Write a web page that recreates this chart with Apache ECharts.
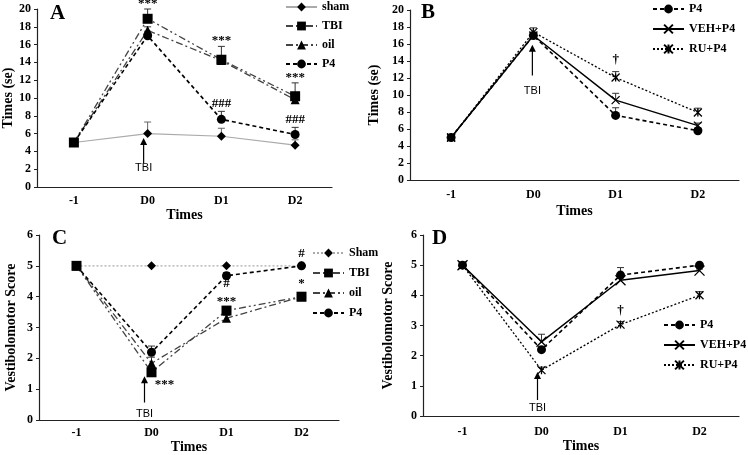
<!DOCTYPE html>
<html><head><meta charset="utf-8">
<script src="https://cdn.jsdelivr.net/npm/echarts@6/dist/echarts.min.js"></script>
<style>html,body{margin:0;padding:0;background:#fff}#c{width:748px;height:455px}</style>
</head><body><div id="c"></div>
<script>
const categories = ['-1', 'D0', 'D1', 'D2'];
const yTicksTime = [0, 20, 2];
const yTicksScore = [0, 6, 1];

// Panel A: Times (se)
const A_sham = [5, 6.0, 5.7, 4.7];
const A_sham_se = [0, 1.3, 0.9, 0.6];
const A_TBI = [5, 18.9, 14.3, 10.2];
const A_TBI_se = [0, 1.1, 1.5, 1.5];
const A_oil = [5, 17.6, 14.2, 9.8];
const A_oil_se = [0, 0.4, 0.3, 0.3];
const A_P4 = [5, 17.0, 7.6, 5.9];
const A_P4_se = [0, 0.5, 0.9, 0.8];

// Panel B: Times (se)
const B_P4 = [5, 17.0, 7.6, 5.8];
const B_P4_se = [0, 0.3, 0.9, 0.3];
const B_VEH = [5, 17.0, 9.4, 6.4];
const B_VEH_se = [0, 0.3, 0.8, 0.3];
const B_RU = [5, 17.4, 12.05, 7.95];
const B_RU_se = [0, 0.5, 0.7, 0.5];

// Panel C: Vestibolomotor Score
const C_Sham = [5, 5, 5, 5];
const C_TBI = [5, 1.55, 3.55, 4.0];
const C_TBI_se = [0, 0.15, 0.1, 0.05];
const C_oil = [5, 1.84, 3.3, 4.0];
const C_oil_se = [0, 0.2, 0.1, 0.05];
const C_P4 = [5, 2.2, 4.68, 5.0];
const C_P4_se = [0, 0.2, 0.1, 0.05];

// Panel D: Vestibolomotor Score
const D_P4 = [5, 2.2, 4.67, 5.0];
const D_P4_se = [0, 0.1, 0.25, 0.05];
const D_VEH = [5, 2.46, 4.5, 4.82];
const D_VEH_se = [0, 0.25, 0.15, 0.05];
const D_RU = [5, 1.52, 3.03, 4.0];
const D_RU_se = [0, 0.1, 0.1, 0.12];

// Significance marks: [category, value, text]
const annA = [['D0', 20.6, '***'], ['D1', 16.4, '***'], ['D2', 12.3, '***'], ['D1', 9.4, '###'], ['D2', 7.6, '###']];
const annB = [['D1', 14.2, '†']];
const annC = [['D0', 1.15, '***'], ['D1', 3.85, '***'], ['D1', 4.42, '#'], ['D2', 5.4, '#'], ['D2', 4.42, '*']];
const annD = [['D1', 3.5, '†']];
// TBI arrows: [category, tail value, tip value, label value]
const arrowA = ['D0', 2.7, 5.5, 2.1];
const arrowB = ['D0', 12.3, 15.9, 10.5];
const arrowC = ['D0', 0.57, 1.42, 0.19];
const arrowD = ['D0', 0.53, 1.46, 0.27];

const SERIF = '"Liberation Serif", "Times New Roman", serif';
const SANS = '"Liberation Sans", Arial, sans-serif';
const boldFont = sz => ({ fontFamily: SERIF, fontWeight: 'bold', fontSize: sz, color: '#000' });

const XSYM = 'path://M0,0L10,10M10,0L0,10';
const ASYM = 'path://M0,0L10,10M10,0L0,10M5,0L5,10';

const grids = [
  { left: 36, top: 9, width: 296, height: 178 },
  { left: 410, top: 10, width: 329, height: 170 },
  { left: 39, top: 235, width: 300, height: 190 },
  { left: 423, top: 235, width: 316, height: 181 }
];
const xMargin = [8, 9, 7, 10];
const xNameGap = [19, 24, 17, 23];
const yNameGap = [22, 29, 21, 28];
const yNames = ['Times (se)', 'Times (se)', 'Vestibolomotor Score', 'Vestibolomotor Score'];

const xAxes = grids.map((g, i) => ({
  type: 'category', gridIndex: i, data: categories, boundaryGap: true,
  name: 'Times', nameLocation: 'middle', nameGap: xNameGap[i], nameTextStyle: boldFont(14),
  axisLine: { lineStyle: { color: '#222', width: 1.2 } },
  axisTick: { alignWithLabel: true, length: 3, lineStyle: { color: '#222' } },
  axisLabel: Object.assign({ margin: xMargin[i] }, boldFont(12)),
  splitLine: { show: false }
}));
const yAxes = grids.map((g, i) => {
  const t = i < 2 ? yTicksTime : yTicksScore;
  return {
    type: 'value', gridIndex: i, min: t[0], max: t[1], interval: t[2],
    name: yNames[i], nameLocation: 'middle', nameGap: yNameGap[i], nameRotate: 90,
    nameTextStyle: boldFont(14),
    axisLine: { show: true, lineStyle: { color: '#222', width: 1.2 } },
    axisTick: { show: true, length: 3, lineStyle: { color: '#222' } },
    axisLabel: Object.assign({ margin: 6 }, boldFont(12)),
    splitLine: { show: false }
  };
});

function lineSeries(gi, name, data, symbol, size, color, dash, width) {
  return {
    type: 'line', name, xAxisIndex: gi, yAxisIndex: gi, data,
    symbol, symbolSize: size, z: 3,
    lineStyle: { color, type: dash, width },
    itemStyle: { color: '#000', borderColor: '#000', borderWidth: (symbol === XSYM || symbol === ASYM) ? 1.3 : 0 },
    emphasis: { disabled: true }, animation: false
  };
}
function errSeries(gi, vals, se, color) {
  return {
    type: 'custom', xAxisIndex: gi, yAxisIndex: gi, silent: true, z: 2, animation: false,
    data: vals.map((v, i) => [i, v, se[i]]).filter(d => d[2] > 0),
    renderItem(params, api) {
      const x = api.value(0), v = api.value(1), e = api.value(2);
      const p1 = api.coord([x, v]), p2 = api.coord([x, v + e]);
      return { type: 'group', children: [
        { type: 'line', shape: { x1: p1[0], y1: p1[1], x2: p2[0], y2: p2[1] }, style: { stroke: color, lineWidth: 1 } },
        { type: 'line', shape: { x1: p2[0] - 3.5, y1: p2[1], x2: p2[0] + 3.5, y2: p2[1] }, style: { stroke: color, lineWidth: 1 } }
      ] };
    }
  };
}
function annSeries(gi, items, font, dx) {
  return {
    type: 'custom', xAxisIndex: gi, yAxisIndex: gi, silent: true, z: 6, animation: false,
    data: items.map(d => [categories.indexOf(d[0]), d[1]]),
    renderItem(params, api) {
      const p = api.coord([api.value(0), api.value(1)]);
      const d = items[params.dataIndex];
      const off = (d[2] === '***' && d[0] === 'D0' && gi === 2) ? dx : 0;
      return { type: 'text', x: p[0] + off, y: p[1],
        style: { text: d[2], font, fill: '#000', align: 'center', verticalAlign: 'middle' } };
    }
  };
}
function arrowSeries(gi, a, dx) {
  return {
    type: 'custom', xAxisIndex: gi, yAxisIndex: gi, silent: true, z: 6, animation: false,
    data: [[categories.indexOf(a[0]), a[1], a[2], a[3]]],
    renderItem(params, api) {
      const x = api.value(0);
      const t = api.coord([x, api.value(1)]), h = api.coord([x, api.value(2)]), l = api.coord([x, api.value(3)]);
      const cx = t[0] + dx;
      return { type: 'group', children: [
        { type: 'line', shape: { x1: cx, y1: t[1], x2: cx, y2: h[1] + 5 }, style: { stroke: '#000', lineWidth: 1.2 } },
        { type: 'polygon', shape: { points: [[cx, h[1]], [cx - 3.5, h[1] + 7], [cx + 3.5, h[1] + 7]] }, style: { fill: '#000' } },
        { type: 'text', x: cx, y: l[1], style: { text: 'TBI', font: '11px ' + SANS, fill: '#000', align: 'center', verticalAlign: 'middle' } }
      ] };
    }
  };
}

const dashDotDot = [7, 3, 2, 3, 2, 3];
const dashDot = [7, 3, 2, 3];
const dashed = [4, 3];
const dotted = [2, 2];

const series = [
  // A
  errSeries(0, A_sham, A_sham_se, '#666'),
  errSeries(0, A_TBI, A_TBI_se, '#333'),
  errSeries(0, A_oil, A_oil_se, '#333'),
  errSeries(0, A_P4, A_P4_se, '#333'),
  lineSeries(0, 'sham', A_sham, 'diamond', 9, '#aaa', 'solid', 1.2),
  lineSeries(0, 'TBI', A_TBI, 'rect', 10, '#444', dashDotDot, 1.3),
  lineSeries(0, 'oil', A_oil, 'triangle', 9, '#444', dashDot, 1.3),
  lineSeries(0, 'P4', A_P4, 'circle', 9, '#000', dashed, 1.6),
  annSeries(0, annA, 'bold 13px ' + SERIF, 0),
  arrowSeries(0, arrowA, -4),
  // B
  errSeries(1, B_P4, B_P4_se, '#333'),
  errSeries(1, B_VEH, B_VEH_se, '#333'),
  errSeries(1, B_RU, B_RU_se, '#333'),
  lineSeries(1, 'P4', B_P4, 'circle', 9, '#000', dashed, 1.6),
  lineSeries(1, 'VEH+P4', B_VEH, XSYM, 8, '#000', 'solid', 1.5),
  lineSeries(1, 'RU+P4', B_RU, ASYM, 8, '#000', dotted, 1.3),
  annSeries(1, annB, 'bold 13px ' + SERIF, 0),
  arrowSeries(1, arrowB, -1),
  // C
  errSeries(2, C_TBI, C_TBI_se, '#333'),
  errSeries(2, C_oil, C_oil_se, '#333'),
  errSeries(2, C_P4, C_P4_se, '#333'),
  lineSeries(2, 'Sham', C_Sham, 'diamond', 9, '#aaa', dotted, 1.2),
  lineSeries(2, 'TBI', C_TBI, 'rect', 10, '#444', dashDotDot, 1.3),
  lineSeries(2, 'oil', C_oil, 'triangle', 9, '#444', dashDot, 1.3),
  lineSeries(2, 'P4', C_P4, 'circle', 9, '#000', dashed, 1.6),
  annSeries(2, annC, 'bold 13px ' + SERIF, 13),
  arrowSeries(2, arrowC, -7),
  // D
  errSeries(3, D_P4, D_P4_se, '#333'),
  errSeries(3, D_VEH, D_VEH_se, '#333'),
  errSeries(3, D_RU, D_RU_se, '#333'),
  lineSeries(3, 'P4', D_P4, 'circle', 9, '#000', dashed, 1.6),
  lineSeries(3, 'VEH+P4', D_VEH, XSYM, 10, '#000', 'solid', 1.5),
  lineSeries(3, 'RU+P4', D_RU, ASYM, 8, '#000', dotted, 1.3),
  annSeries(3, annD, 'bold 13px ' + SERIF, 0),
  arrowSeries(3, arrowD, -4)
];

const legendBase = {
  orient: 'vertical', itemWidth: 31, itemHeight: 11, itemGap: 8, padding: 0,
  textStyle: boldFont(12), selectedMode: false, inactiveColor: '#000'
};
const legends = [
  Object.assign({}, legendBase, { left: 285, top: 1, itemGap: 7, data: ['sham', 'TBI', 'oil', 'P4'] }),
  Object.assign({}, legendBase, { left: 652, top: 3, data: ['P4', 'VEH+P4', 'RU+P4'] }),
  Object.assign({}, legendBase, { left: 312, top: 247, data: ['Sham', 'TBI', 'oil', 'P4'] }),
  Object.assign({}, legendBase, { left: 663, top: 319, data: ['P4', 'VEH+P4', 'RU+P4'] })
];

const letters = [['A', 50, 3], ['B', 421, 2], ['C', 52, 228], ['D', 432, 228]];

const chart = echarts.init(document.getElementById('c'), null, { renderer: 'canvas' });
chart.setOption({
  backgroundColor: '#fff',
  animation: false,
  grid: grids,
  xAxis: xAxes,
  yAxis: yAxes,
  legend: legends,
  series,
  graphic: letters.map(l => ({ type: 'text', left: l[1], top: l[2],
    style: { text: l[0], font: 'bold 21px ' + SERIF, fill: '#000' } }))
});
</script></body></html>
